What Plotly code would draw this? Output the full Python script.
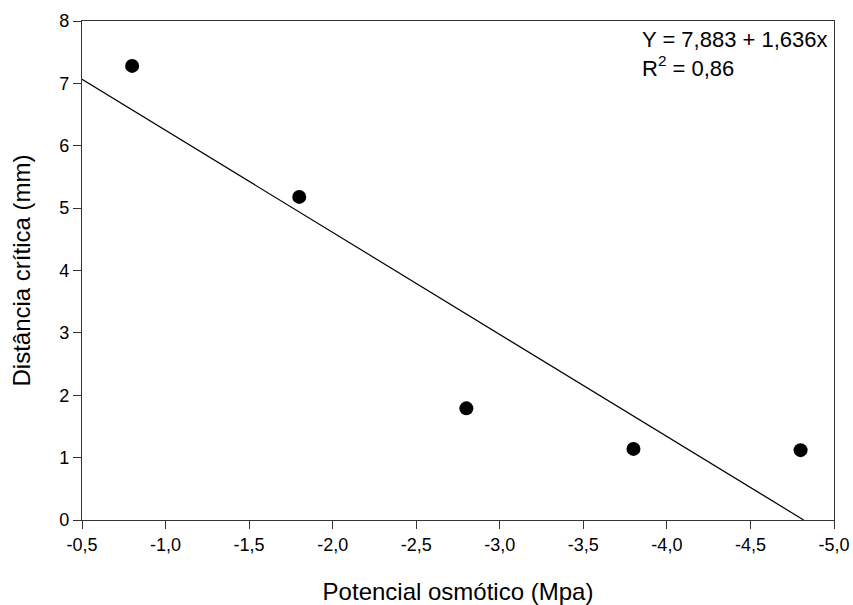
import plotly.graph_objects as go

potencial = [-0.8, -1.8, -2.8, -3.8, -4.8]
distancia = [7.28, 5.18, 1.79, 1.14, 1.12]
intercept = 7.883
slope = 1.636
x_ticks = [-0.5, -1.0, -1.5, -2.0, -2.5, -3.0, -3.5, -4.0, -4.5, -5.0]
x_tick_labels = ["-0,5", "-1,0", "-1,5", "-2,0", "-2,5", "-3,0", "-3,5", "-4,0", "-4,5", "-5,0"]
y_ticks = [0, 1, 2, 3, 4, 5, 6, 7, 8]

x_start = -0.5
x_end = -intercept / slope
line_x = [x_start, x_end]
line_y = [intercept + slope * v for v in line_x]

font = "Liberation Sans, Arial, sans-serif"

fig = go.Figure()
fig.add_trace(go.Scatter(x=line_x, y=line_y, mode="lines",
                         line=dict(color="black", width=1.2), showlegend=False))
fig.add_trace(go.Scatter(x=potencial, y=distancia, mode="markers",
                         marker=dict(color="black", size=14), showlegend=False))

fig.add_annotation(x=0.742, y=1, xref="paper", yref="paper", xanchor="left", yanchor="top",
                   yshift=-4, align="left", showarrow=False,
                   text="Y = 7,883 + 1,636x<br>R<sup>2</sup> = 0,86",
                   font=dict(family=font, size=22, color="black"))

fig.update_layout(
    width=853, height=605,
    margin=dict(l=82, r=19, t=21, b=85),
    plot_bgcolor="white", paper_bgcolor="white",
    separators=",.",
    font=dict(family=font, color="black"),
)
fig.update_xaxes(range=[-0.5, -5.0], tickvals=x_ticks, ticktext=x_tick_labels, automargin=False,
                 showline=True, linecolor="#333", linewidth=1.2, mirror=True,
                 ticks="outside", ticklen=8, tickcolor="#333", showgrid=False, zeroline=False,
                 tickfont=dict(size=18),
                 title=dict(text="Potencial osmótico (Mpa)", font=dict(size=24), standoff=29))
fig.update_yaxes(range=[0, 8], tickvals=y_ticks, automargin=False,
                 showline=True, linecolor="#333", linewidth=1.2, mirror=True,
                 ticks="outside", ticklen=8, tickcolor="#333", showgrid=False, zeroline=False,
                 tickfont=dict(size=18),
                 title=dict(text="Distância crítica (mm)", font=dict(size=24), standoff=21))

# remove the default page margin so the 853x605 figure fills the window exactly
fig.write_html("out.html", config={"displayModeBar": False},
               post_script="document.body.style.margin='0';document.body.style.overflow='hidden';")
